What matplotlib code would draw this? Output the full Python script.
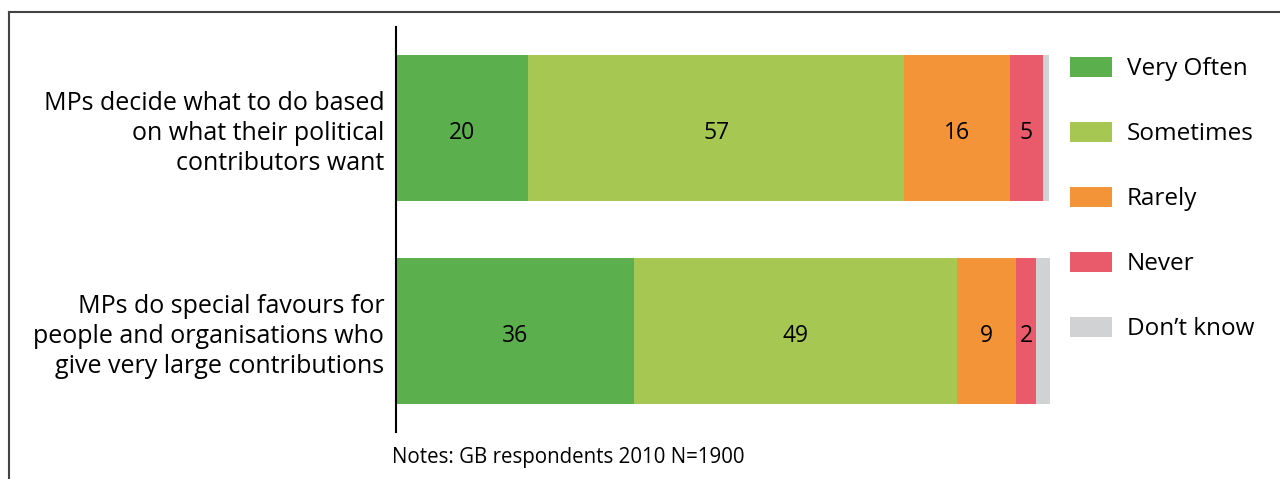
import matplotlib
matplotlib.use('Agg')
import matplotlib.pyplot as plt
from matplotlib.lines import Line2D
from matplotlib.patches import Patch
from matplotlib.transforms import ScaledTranslation
import numpy as np

plt.rcParams['font.family'] = ['Open Sans', 'DejaVu Sans']

categories = ['MPs decide what to do based\non what their political\ncontributors want',
              'MPs do special favours for\npeople and organisations who\ngive very large contributions']
series = ['Very Often', 'Sometimes', 'Rarely', 'Never', "Don\u2019t know"]
colors = ['#5baf4c', '#a6c853', '#f29437', '#e95b6a', '#d1d2d4']
# bar widths as drawn (percent)
values = np.array([[20, 57, 16, 5, 0.9],
                   [36, 49, 9, 3, 2.1]])
# numbers printed on the bars
labels = [['20', '57', '16', '5', ''],
          ['36', '49', '9', '2', '']]
note = 'Notes: GB respondents 2010 N=1900'

fig = plt.figure(figsize=(12.8, 4.79), dpi=100)
ax = fig.add_axes([396 / 1280, 1 - 432 / 479, 660 / 1280, 405 / 479])

down = ScaledTranslation(0, -3.5 / 72, fig.dpi_scale_trans)

y = np.arange(len(categories))
left = np.zeros(len(categories))
for j, name in enumerate(series):
    ax.barh(y, values[:, j], left=left, height=0.72, color=colors[j],
            label=name, linewidth=0)
    for i in range(len(categories)):
        if labels[i][j]:
            ax.text(left[i] + values[i, j] / 2, y[i], labels[i][j],
                    ha='center', va='center', fontsize=16.5, color='black',
                    transform=ax.transData + down)
    left += values[:, j]

ax.set_xlim(0, 100)
ax.set_ylim(1.4975, -0.4975)
ax.set_yticks(y)
ax.set_yticklabels(categories, fontsize=18, linespacing=1.26)
for lbl in ax.get_yticklabels():
    lbl.set_transform(lbl.get_transform() + ScaledTranslation(0, -4 / 72, fig.dpi_scale_trans))
ax.set_xticks([])
ax.tick_params(axis='y', length=0, pad=8.5)
for s in ['top', 'right', 'bottom']:
    ax.spines[s].set_visible(False)
ax.spines['left'].set_linewidth(1.5)
ax.spines['left'].set_color('black')

handles = [Patch(facecolor=c, edgecolor='none') for c in colors]
fig.legend(handles, series, loc='upper left', bbox_to_anchor=(1070 / 1280, 1 - 57 / 479),
           frameon=False, fontsize=17.5, handlelength=1.73, handleheight=0.86,
           handletextpad=0.62, labelspacing=1.68, borderaxespad=0, borderpad=0)

fig.text(392 / 1280, 1 - 458 / 479, note, fontsize=14.8, va='center', ha='left')

# frame lines
fig.add_artist(Line2D([9 / 1280, 1], [1 - 12 / 479, 1 - 12 / 479], color='#444444', lw=1.5))
fig.add_artist(Line2D([9 / 1280, 9 / 1280], [0, 1 - 12 / 479], color='#444444', lw=1.5))

fig.savefig('out.png', dpi=100)
